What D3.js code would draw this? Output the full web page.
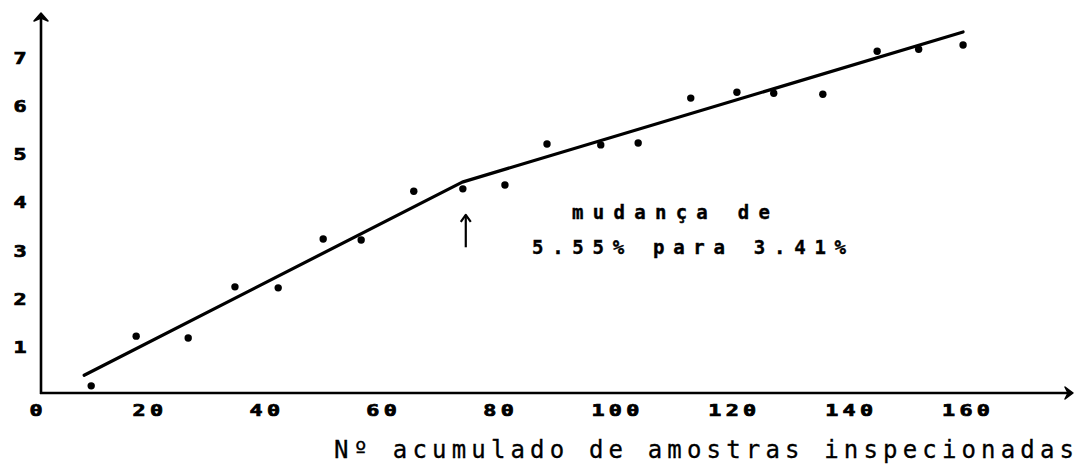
<!DOCTYPE html>
<html>
<head>
<meta charset="utf-8">
<script src="https://cdn.jsdelivr.net/npm/d3@7"></script>
<style>
  html, body { margin: 0; padding: 0; background: #fff; }
  svg { display: block; }
</style>
</head>
<body>
<svg id="chart" width="1077" height="466"></svg>
<script>
// ---- data ----
const samplesX = [10.3, 18.0, 26.9, 34.9, 42.3, 50.0, 56.5, 65.5, 73.9, 81.1,
                  88.3, 97.5, 103.9, 112.9, 120.8, 127.1, 135.5, 144.8, 151.9, 159.5];
const defectsY = [0.21, 1.24, 1.20, 2.26, 2.24, 3.25, 3.23, 4.24, 4.29, 4.37,
                  5.22, 5.20, 5.24, 6.17, 6.29, 6.27, 6.25, 7.14, 7.18, 7.27];
const fitX = [9.1, 73.8, 159.5];
const fitY = [0.43, 4.43, 7.54];
const xTickValues = [0, 20, 40, 60, 80, 100, 120, 140, 160];
const yTickValues = [1, 2, 3, 4, 5, 6, 7];
const changeAt = 74.4;
const arrowY = [3.08, 3.75];
const noteLines = ["mudança de", "5.55% para 3.41%"];
const xTitle = "Nº acumulado de amostras inspecionadas";

// ---- scales ----
const svg = d3.select("#chart");
const x = d3.scaleLinear().domain([0, 160]).range([31, 966]);
const y = d3.scaleLinear().domain([0, 7]).range([396, 58]);

const axisX0 = 41, axisY0 = 393, axisTop = 13, axisRight = 1073;

// axes
svg.append("line").attr("x1", axisX0).attr("x2", axisX0)
  .attr("y1", axisY0 + 1).attr("y2", axisTop + 3)
  .attr("stroke", "#000").attr("stroke-width", 2.6);
svg.append("path")
  .attr("d", `M${axisX0},${axisTop} L${axisX0 - 7},${axisTop + 8} L${axisX0},${axisTop + 5} L${axisX0 + 7},${axisTop + 8} Z`)
  .attr("fill", "#000").attr("stroke", "#000").attr("stroke-width", 1.5).attr("stroke-linejoin", "round");
svg.append("line").attr("x1", axisX0 - 1).attr("x2", axisRight - 3)
  .attr("y1", axisY0).attr("y2", axisY0)
  .attr("stroke", "#000").attr("stroke-width", 2.6);
svg.append("path")
  .attr("d", `M${axisRight},${axisY0} L${axisRight - 8},${axisY0 - 6} L${axisRight - 5},${axisY0} L${axisRight - 8},${axisY0 + 6} Z`)
  .attr("fill", "#000").attr("stroke", "#000").attr("stroke-width", 1.5).attr("stroke-linejoin", "round");

// tick labels (plotter-style: bold, wide)
const tickFont = "'DejaVu Sans Mono', monospace";
function wideLabel(cx, baseline, str) {
  const g = svg.append("g").attr("transform", `translate(${cx},${baseline}) scale(1.45,1)`);
  const t = g.append("text").attr("x", 0).attr("y", 0)
    .attr("text-anchor", "middle")
    .attr("font-family", tickFont).attr("font-weight", "bold").attr("font-size", 15)
    .attr("stroke", "#000").attr("stroke-width", 0.7)
    .text(str);
  if (str.length > 1) {
    t.attr("textLength", (str.length * 17.3 - 4) / 1.45).attr("lengthAdjust", "spacing");
  }
}
xTickValues.forEach(v => wideLabel(x(v) + (v === 0 ? 5 : 0), 416, String(v)));
yTickValues.forEach(v => wideLabel(20, y(v) + 5.5, String(v)));

// fitted broken line
const line = d3.line().x(d => x(d[0])).y(d => y(d[1]));
svg.append("path")
  .datum(fitX.map((v, i) => [v, fitY[i]]))
  .attr("d", line)
  .attr("fill", "none").attr("stroke", "#000").attr("stroke-width", 3.2)
  .attr("stroke-linejoin", "round").attr("stroke-linecap", "round");

// points
svg.append("g").selectAll("circle")
  .data(samplesX.map((v, i) => [v, defectsY[i]]))
  .join("circle")
  .attr("cx", d => x(d[0])).attr("cy", d => y(d[1]))
  .attr("r", 3.7).attr("fill", "#000");

// change arrow
const ax = x(changeAt);
svg.append("line").attr("x1", ax).attr("x2", ax)
  .attr("y1", y(arrowY[0])).attr("y2", y(arrowY[1]))
  .attr("stroke", "#000").attr("stroke-width", 2.2);
svg.append("path")
  .attr("d", `M${ax - 5},${y(arrowY[1]) + 7} L${ax},${y(arrowY[1])} L${ax + 5},${y(arrowY[1]) + 7}`)
  .attr("fill", "none").attr("stroke", "#000").attr("stroke-width", 2.2)
  .attr("stroke-linejoin", "round");

// annotation text
const noteFont = "'DejaVu Sans Mono', monospace";
svg.append("text").attr("x", 572).attr("y", 219)
  .attr("font-family", noteFont).attr("font-weight", "bold").attr("font-size", 19)
  .attr("stroke", "#000").attr("stroke-width", 0.4)
  .attr("textLength", 198).attr("lengthAdjust", "spacing")
  .text(noteLines[0]);
svg.append("text").attr("x", 532).attr("y", 254)
  .attr("font-family", noteFont).attr("font-weight", "bold").attr("font-size", 19)
  .attr("stroke", "#000").attr("stroke-width", 0.4)
  .attr("textLength", 314).attr("lengthAdjust", "spacing")
  .text(noteLines[1]);

// x-axis title
svg.append("text").attr("x", 334).attr("y", 458)
  .attr("font-family", "'DejaVu Sans Mono', monospace").attr("font-size", 24)
  .attr("stroke", "#000").attr("stroke-width", 0.3)
  .attr("textLength", 740).attr("lengthAdjust", "spacing")
  .text(xTitle);
</script>
</body>
</html>
